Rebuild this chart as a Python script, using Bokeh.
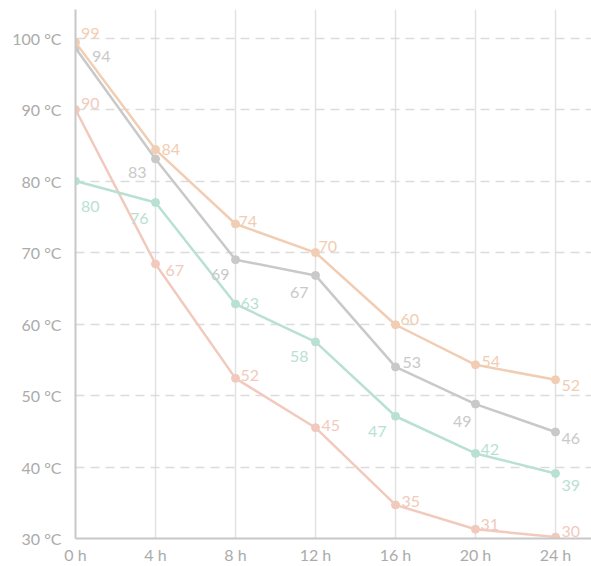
from bokeh.plotting import figure
from bokeh.models import ColumnDataSource, Range1d, FixedTicker
from bokeh.core.properties import value
from bokeh.embed import file_html
from bokeh.resources import INLINE

# ---- data ----
hours = [0, 4, 8, 12, 16, 20, 24]
x_tick_labels = ["0 h", "4 h", "8 h", "12 h", "16 h", "20 h", "24 h"]
y_ticks = [30, 40, 50, 60, 70, 80, 90, 100]
y_tick_labels = ["30 °C", "40 °C", "50 °C", "60 °C", "70 °C", "80 °C", "90 °C", "100 °C"]

peach_values = [99.4, 84.4, 74.0, 70.0, 59.9, 54.3, 52.2]
peach_labels = ["99", "84", "74", "70", "60", "54", "52"]
grey_values = [98.6, 83.1, 69.0, 66.8, 54.0, 48.8, 44.9]
grey_labels = ["94", "83", "69", "67", "53", "49", "46"]
mint_values = [80.0, 77.0, 62.8, 57.5, 47.1, 41.9, 39.1]
mint_labels = ["80", "76", "63", "58", "47", "42", "39"]
pink_values = [90.0, 68.4, 52.4, 45.5, 34.7, 31.3, 30.2]
pink_labels = ["90", "67", "52", "45", "35", "31", "30"]

# ---- styles (label placement in screen pixels) ----
peach_off = [(5.5, -9, "left"), (6, 0, "left"), (3, -2, "left"), (3, -6, "left"),
             (5, -5, "left"), (6, -3, "left"), (6, 6, "left")]
grey_off = [(16.5, 8, "left"), (-9, 14, "right"), (-6, 15, "right"), (-7, 17, "right"),
            (7, -4, "left"), (-4, 17, "right"), (6, 7, "left")]
mint_off = [(5.5, 25, "left"), (-7, 16, "right"), (5, -1, "left"), (-7, 15, "right"),
            (-9, 15, "right"), (5, -4, "left"), (6, 12, "left")]
pink_off = [(5.5, -6, "left"), (10, 7, "left"), (5, -3, "left"), (6, -2, "left"),
            (6, -3, "left"), (5, -5, "left"), (6, -6, "left")]

FONT = "Lato"

p = figure(width=591, height=566, output_backend="svg", toolbar_location=None,
           x_range=Range1d(0, 25.8), y_range=Range1d(30, 104),
           min_border_left=75, min_border_right=0, min_border_top=9, min_border_bottom=10)
p.outline_line_color = None
p.background_fill_color = "white"

# axes
for ax in (p.xaxis[0], p.yaxis[0]):
    ax.axis_line_color = "#c8c8c8"
    ax.axis_line_width = 2
    ax.major_tick_line_color = None
    ax.minor_tick_line_color = None
    ax.major_tick_out = 0
    ax.major_tick_in = 0
    ax.minor_tick_out = 0
    ax.major_label_text_color = "#ababab"
    ax.major_label_text_font = FONT
    ax.major_label_text_font_size = "16px"

p.xaxis.ticker = FixedTicker(ticks=hours)
p.xaxis.major_label_overrides = {h: l for h, l in zip(hours, x_tick_labels)}
p.xaxis.major_label_standoff = 6
p.yaxis.ticker = FixedTicker(ticks=y_ticks)
p.yaxis.major_label_overrides = {t: l for t, l in zip(y_ticks, y_tick_labels)}
p.yaxis.major_label_standoff = 14

p.xgrid.ticker = FixedTicker(ticks=hours[1:])
p.xgrid.grid_line_color = "#e2e2e2"
p.xgrid.grid_line_width = 1.5
p.ygrid.ticker = FixedTicker(ticks=y_ticks[1:])
p.ygrid.grid_line_color = "#dcdcdc"
p.ygrid.grid_line_width = 1.5
p.ygrid.grid_line_dash = "9 6"

series = [
    (pink_values, pink_labels, pink_off, "#f2cabd"),
    (mint_values, mint_labels, mint_off, "#b9e1d3"),
    (grey_values, grey_labels, grey_off, "#c9c9c9"),
    (peach_values, peach_labels, peach_off, "#f1cdb3"),
]

for vals, labs, offs, col in series:
    src = ColumnDataSource(dict(
        x=hours, y=vals, label=labs,
        xo=[o[0] for o in offs], yo=[o[1] for o in offs], al=[o[2] for o in offs],
    ))
    p.line("x", "y", source=src, line_color=col, line_width=2.5)
    p.scatter("x", "y", source=src, size=8, fill_color=col, line_color=col)
    p.text("x", "y", text="label", source=src, x_offset="xo", y_offset="yo",
           text_align="al", text_baseline="alphabetic", text_color=col,
           text_font=value(FONT), text_font_size="16px")

open("out.html", "w").write(file_html(p, INLINE))
